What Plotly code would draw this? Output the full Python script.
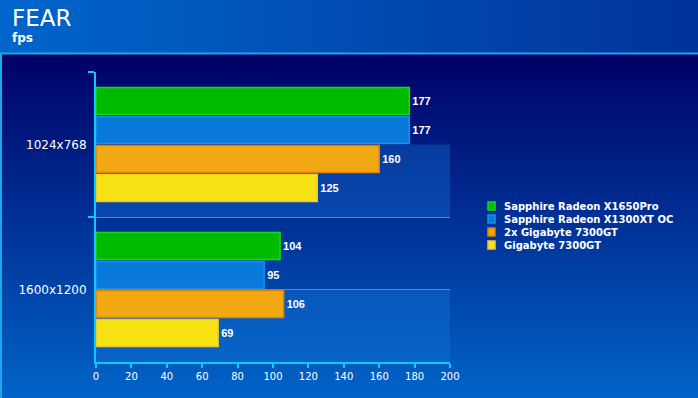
import base64
import plotly.graph_objects as go

# ---- data ----
categories = ["1024x768", "1600x1200"]
series_names = ["Sapphire Radeon X1650Pro", "Sapphire Radeon X1300XT OC",
                "2x Gigabyte 7300GT", "Gigabyte 7300GT"]
x1650pro = [177, 104]
x1300xt_oc = [177, 95]
gigabyte_7300gt_x2 = [160, 106]
gigabyte_7300gt = [125, 69]
x_ticks = [0, 20, 40, 60, 80, 100, 120, 140, 160, 180, 200]

series_values = [x1650pro, x1300xt_oc, gigabyte_7300gt_x2, gigabyte_7300gt]
fill_colors = ["#00BA00", "#0A7ADA", "#F2A812", "#F7E214"]
line_colors = ["#18D818", "#1C8EEE", "#E08400", "#F0C830"]

W, H = 698, 398
ML, MR, MT, MB = 96, 248, 72, 36
PW, PH = W - ML - MR, H - MT - MB


def xp(px):
    return (px - ML) / PW


def yp(py):
    return (H - MB - py) / PH


def grad_svg(c1, c2, vertical):
    x2, y2 = ("0", "1") if vertical else ("1", "0")
    svg = ('<svg xmlns="http://www.w3.org/2000/svg" width="100" height="100" '
           'preserveAspectRatio="none"><defs><linearGradient id="g" x1="0" y1="0" '
           f'x2="{x2}" y2="{y2}"><stop offset="0" stop-color="{c1}"/>'
           f'<stop offset="1" stop-color="{c2}"/></linearGradient></defs>'
           '<rect width="100" height="100" fill="url(#g)"/></svg>')
    return "data:image/svg+xml;base64," + base64.b64encode(svg.encode()).decode()


fig = go.Figure()
for name, vals, fc, lc in zip(series_names, series_values, fill_colors, line_colors):
    fig.add_trace(go.Bar(
        y=categories, x=vals, name=name, orientation="h",
        marker=dict(color=fc, line=dict(color=lc, width=1.5)),
        text=vals, textposition="outside", cliponaxis=False,
        textfont=dict(family="Liberation Sans", size=11, color="white", weight="bold"),
        showlegend=False,
    ))

images = [
    dict(source=grad_svg("#0066CC", "#003399", False), xref="paper", yref="paper",
         x=xp(0), y=yp(0), sizex=W / PW, sizey=53 / PH, sizing="stretch",
         xanchor="left", yanchor="top", layer="below"),
    dict(source=grad_svg("#000066", "#0064C8", True), xref="paper", yref="paper",
         x=xp(0), y=yp(54), sizex=W / PW, sizey=(H - 54) / PH, sizing="stretch",
         xanchor="left", yanchor="top", layer="below"),
]

shapes = [
    # header separator line
    dict(type="line", xref="paper", yref="paper", x0=xp(0), x1=xp(W), y0=yp(53.5), y1=yp(53.5),
         line=dict(color="#1AA8EC", width=2), layer="below"),
    # left border
    dict(type="line", xref="paper", yref="paper", x0=xp(1), x1=xp(1), y0=yp(53), y1=yp(H),
         line=dict(color="#1AA8EC", width=2), layer="below"),
    # lighter bands in plot area
    dict(type="rect", xref="paper", yref="y domain", x0=0, x1=1, y0=0, y1=0.25,
         fillcolor="rgba(20,120,220,0.35)", line=dict(width=0), layer="below"),
    dict(type="rect", xref="paper", yref="y domain", x0=0, x1=1, y0=0.5, y1=0.75,
         fillcolor="rgba(20,120,220,0.35)", line=dict(width=0), layer="below"),
    dict(type="line", xref="paper", yref="y domain", x0=0, x1=1, y0=0.25, y1=0.25,
         line=dict(color="#1AA0E6", width=1), layer="below"),
]

annotations = [
    dict(text="FEAR", xref="paper", yref="paper", x=xp(10), y=yp(3), xanchor="left",
         yanchor="top", showarrow=False,
         font=dict(family="DejaVu Sans", size=23, color="white")),
    dict(text="fps", xref="paper", yref="paper", x=xp(10), y=yp(29), xanchor="left",
         yanchor="top", showarrow=False,
         font=dict(family="DejaVu Sans", size=12, color="white", weight="bold")),
]

# manual legend
for i, (name, fc, lc) in enumerate(zip(series_names, fill_colors, line_colors)):
    cy = 206 + 13 * i
    shapes.append(dict(type="rect", xref="paper", yref="paper",
                       x0=xp(488), x1=xp(495), y0=yp(cy - 4), y1=yp(cy + 4),
                       fillcolor=fc, line=dict(color=lc, width=1.5)))
    annotations.append(dict(text=name, xref="paper", yref="paper", x=xp(502), y=yp(cy),
                            xanchor="left", yanchor="middle", showarrow=False,
                            font=dict(family="DejaVu Sans", size=10, color="white",
                                      weight="bold")))

axis_col = "#10C8FF"
fig.update_layout(
    width=W, height=H,
    margin=dict(l=ML, r=MR, t=MT, b=MB, pad=0),
    paper_bgcolor="#000066", plot_bgcolor="rgba(0,0,0,0)",
    barmode="group", bargap=0.2, bargroupgap=0.07,
    images=images, shapes=shapes, annotations=annotations,
    showlegend=False,
    xaxis=dict(range=[0, 200], tickvals=x_ticks, showgrid=False, zeroline=False,
               showline=True, linecolor=axis_col, linewidth=2,
               ticks="outside", ticklen=4, tickwidth=2, tickcolor=axis_col,
               tickfont=dict(family="DejaVu Sans", size=10, color="white")),
    yaxis=dict(autorange="reversed", type="category", tickson="boundaries",
               showgrid=True, gridcolor="#1AA0E6", gridwidth=1,
               showline=True, linecolor=axis_col, linewidth=2,
               ticks="outside", ticklen=6, tickwidth=2, tickcolor=axis_col,
               ticklabelstandoff=5,
               tickfont=dict(family="DejaVu Sans", size=12, color="white")),
)

fig.write_html("out.html", config={"displayModeBar": False},
               post_script="document.body.style.margin='0';document.body.style.overflow='hidden';")
